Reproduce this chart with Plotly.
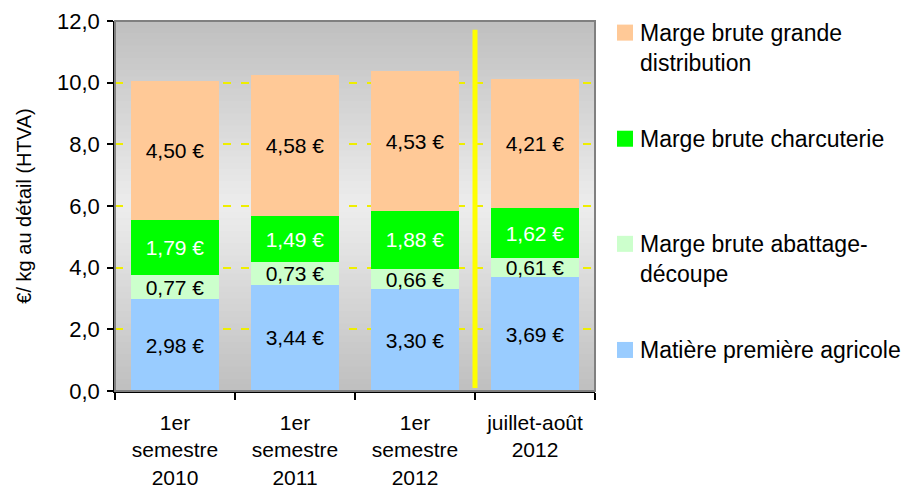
import plotly.graph_objects as go

# ---- data ----
categories = ["1er<br>semestre<br>2010", "1er<br>semestre<br>2011", "1er<br>semestre<br>2012", "juillet-août<br>2012"]
series_names = ["Matière première agricole", "Marge brute abattage-découpe",
                "Marge brute charcuterie", "Marge brute grande distribution"]
legend_labels = ["Matière première agricole", "Marge brute abattage-<br>découpe",
                 "Marge brute charcuterie", "Marge brute grande<br>distribution"]
matiere = [2.98, 3.44, 3.30, 3.69]
abattage = [0.77, 0.73, 0.66, 0.61]
charcuterie = [1.79, 1.49, 1.88, 1.62]
grande_dist = [4.50, 4.58, 4.53, 4.21]
series_values = [matiere, abattage, charcuterie, grande_dist]
y_tick_vals = [0, 2, 4, 6, 8, 10, 12]
y_title = "€/ kg au détail (HTVA)"
divider_after_index = 2  # vertical marker between 3rd and 4th category

# ---- style ----
colors = ["#99ccff", "#ccffcc", "#00ff00", "#ffc997"]
label_colors = ["black", "black", "white", "black"]
FONT = "Arial, Liberation Sans, sans-serif"
OFF = 8  # page body margin
W, H = 921 - OFF, 490 - OFF
# plot area in screen pixels -> figure pixels
L, R, T, B = 115 - OFF, 595 - OFF, 21.4 - OFF, 391 - OFF


def px_x(sx):
    return (sx - OFF - L) / (R - L)


def px_y(sy):
    return (B - (sy - OFF)) / (B - T)


def fmt(v):
    return f"{v:.2f}".replace(".", ",") + " €"


fig = go.Figure()
for name, vals, col, lc in zip(series_names, series_values, colors, label_colors):
    fig.add_trace(go.Bar(
        x=categories, y=vals, name=name,
        marker=dict(color=col, line=dict(width=0)),
        width=0.73,
        text=[fmt(v) for v in vals],
        textposition="inside", insidetextanchor="middle", textangle=0,
        textfont=dict(color=lc, size=21, family=FONT),
        showlegend=False, hoverinfo="skip",
    ))

shapes = []
# gradient background (symmetric, dark edges, light centre)
n = 60
c_edge, c_mid = 191, 237
for i in range(n):
    t = (i + 0.5) / n
    k = 1 - abs(t - 0.5) * 2
    g = int(round(c_edge + (c_mid - c_edge) * k))
    shapes.append(dict(type="rect", xref="paper", yref="paper", x0=0, x1=1,
                       y0=i / n, y1=(i + 1) / n + 0.002, layer="below",
                       fillcolor=f"rgb({g},{g},{g})", line=dict(width=0)))
# plot border (top/right gray)
shapes.append(dict(type="rect", xref="paper", yref="paper", x0=0, x1=1, y0=0, y1=1,
                   layer="above", line=dict(color="#808080", width=2),
                   fillcolor="rgba(0,0,0,0)"))
# yellow divider
shapes.append(dict(type="line", xref="x", yref="y",
                   x0=divider_after_index + 0.5, x1=divider_after_index + 0.5,
                   y0=0.1, y1=11.72, layer="above",
                   line=dict(color="#ffff00", width=5)))

# manual legend (bottom -> top order, matching series order)
legend_sq_tops = [342, 236, 131, 25]
annotations = []
for lab, col, top in zip(legend_labels, colors, legend_sq_tops):
    shapes.append(dict(type="rect", xref="paper", yref="paper",
                       x0=px_x(617), x1=px_x(633), y0=px_y(top + 16), y1=px_y(top),
                       fillcolor=col, line=dict(width=0), layer="above"))
    annotations.append(dict(xref="paper", yref="paper", x=px_x(638), y=px_y(top - 7),
                            xanchor="left", yanchor="top", align="left", showarrow=False,
                            text=lab, font=dict(size=23, family=FONT, color="black")))

fig.update_layout(
    width=W, height=H, autosize=False,
    margin=dict(l=L, r=W - R, t=T, b=H - B, pad=0, autoexpand=False),
    barmode="stack",
    paper_bgcolor="white", plot_bgcolor="rgba(0,0,0,0)",
    separators=", ",
    font=dict(family=FONT, size=20, color="black"),
    uniformtext=dict(minsize=21, mode="show"),
    shapes=shapes, annotations=annotations,
    showlegend=False,
)
fig.update_yaxes(
    automargin=False,
    range=[0, 12], tickvals=y_tick_vals, tickformat=".1f",
    showgrid=True, gridcolor="#eeee00", gridwidth=1.5, griddash="8px,10px",
    zeroline=False, showline=True, linecolor="black", linewidth=1.5,
    ticks="outside", ticklen=6, tickcolor="black", tickwidth=1.5,
    ticklabelstandoff=3,
    tickfont=dict(size=22, family=FONT, color="black"),
    title=dict(text=y_title, font=dict(size=20, family=FONT, color="black"), standoff=20),
)
fig.update_xaxes(
    automargin=False,
    showline=True, linecolor="black", linewidth=1.5,
    ticks="outside", ticklen=7, tickcolor="black", tickwidth=1.5, tickson="boundaries",
    ticklabelstandoff=12,
    tickfont=dict(size=21, family=FONT, color="black"),
    showgrid=False,
)

fig.write_html("out.html")
